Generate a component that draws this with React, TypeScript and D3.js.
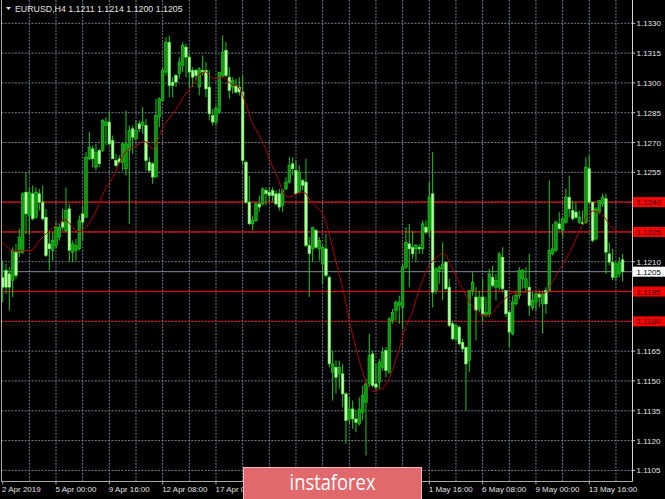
import React from "react";
import * as d3 from "d3";

// EURUSD H4 candles, 2 Apr 2019 08:00 onwards
const symbolName = "EURUSD,H4";
const firstBarTime = "2019-04-02T08:00:00Z";

const open = [
  1.12022, 1.12056, 1.12039, 1.12006, 1.12148, 1.12148, 1.12148, 1.1245, 1.12333, 1.12442,
  1.12324, 1.12442, 1.124, 1.12324, 1.1219, 1.12157, 1.12182, 1.12224, 1.12299, 1.12257,
  1.12366, 1.12148, 1.12157, 1.12165, 1.12341, 1.12324, 1.12618, 1.12668, 1.12576, 1.1266,
  1.1266, 1.12786, 1.12803, 1.1271, 1.1261, 1.12618, 1.12601, 1.12568, 1.1266, 1.12769,
  1.12719, 1.12794, 1.12786, 1.12786, 1.12601, 1.12593, 1.12526, 1.12828, 1.12912, 1.13054,
  1.13205, 1.13004, 1.13037, 1.13046, 1.13088, 1.1318, 1.1313, 1.13063, 1.13063, 1.12979,
  1.13063, 1.13063, 1.12979, 1.12836, 1.12803, 1.12853, 1.13037, 1.13163, 1.13029, 1.12979,
  1.12987, 1.12979, 1.12954, 1.12601, 1.124, 1.12291, 1.12308, 1.12391, 1.12391, 1.12459,
  1.1245, 1.12459, 1.12442, 1.12442, 1.12383, 1.12467, 1.12501, 1.12593, 1.12559, 1.1245,
  1.12509, 1.12501, 1.12182, 1.12165, 1.12257, 1.12165, 1.12089, 1.12165, 1.12022, 1.11544,
  1.11569, 1.11536, 1.11536, 1.11435, 1.11309, 1.11359, 1.11309, 1.11284, 1.11342, 1.11393,
  1.11485, 1.11636, 1.11485, 1.11494, 1.11569, 1.11653, 1.11544, 1.11804, 1.11855, 1.1188,
  1.11871, 1.12073, 1.1219, 1.12173, 1.12165, 1.12173, 1.12165, 1.12274, 1.12257, 1.12442,
  1.11955, 1.12056, 1.12064, 1.12098, 1.11972, 1.11788, 1.11712, 1.11771, 1.11695, 1.1167,
  1.11603, 1.11955, 1.11922, 1.11863, 1.11922, 1.11829, 1.11838, 1.12022, 1.11972, 1.11972,
  1.12123, 1.11955, 1.11846, 1.11737, 1.11888, 1.1193, 1.12014, 1.11972, 1.11972, 1.11871,
  1.11897, 1.11938, 1.11888, 1.11955, 1.11955, 1.1214, 1.12157, 1.12291, 1.12257, 1.12299,
  1.12425, 1.12358, 1.1235, 1.12299, 1.12299, 1.12299, 1.12568, 1.124, 1.12215, 1.1235,
  1.12391, 1.12417, 1.1214, 1.12098, 1.12022, 1.12039, 1.1211,
];

const high = [
  1.12106, 1.12089, 1.12073, 1.12173, 1.1219, 1.12266, 1.1245, 1.12551, 1.12475, 1.12484,
  1.12475, 1.12467, 1.12484, 1.12366, 1.12249, 1.12249, 1.12299, 1.12291, 1.12366, 1.12475,
  1.12391, 1.12207, 1.12215, 1.12333, 1.12383, 1.12652, 1.12752, 1.12685, 1.12693, 1.12668,
  1.12819, 1.12828, 1.12853, 1.12735, 1.12643, 1.12635, 1.12702, 1.12861, 1.12786, 1.12786,
  1.12811, 1.12811, 1.12878, 1.12819, 1.12626, 1.12601, 1.1292, 1.12928, 1.13079, 1.1323,
  1.13239, 1.13029, 1.13046, 1.1313, 1.13205, 1.13197, 1.13147, 1.13079, 1.13071, 1.13079,
  1.13138, 1.13105, 1.13063, 1.1287, 1.12886, 1.13054, 1.13239, 1.13205, 1.13079, 1.13029,
  1.13021, 1.13029, 1.13037, 1.1261, 1.12534, 1.12333, 1.124, 1.12433, 1.12475, 1.12475,
  1.12475, 1.12475, 1.12459, 1.12467, 1.12467, 1.12526, 1.12626, 1.12626, 1.1261, 1.12584,
  1.12517, 1.12618, 1.12224, 1.12274, 1.12266, 1.12224, 1.12182, 1.1224, 1.12031, 1.11653,
  1.11603, 1.11603, 1.11586, 1.11443, 1.11418, 1.11401, 1.11351, 1.11418, 1.11477, 1.11511,
  1.11737, 1.11653, 1.11586, 1.11611, 1.1167, 1.1167, 1.11821, 1.11863, 1.11905, 1.1193,
  1.12089, 1.12274, 1.12291, 1.12257, 1.1219, 1.1219, 1.12308, 1.12308, 1.12501, 1.12652,
  1.12073, 1.12081, 1.12198, 1.12098, 1.12014, 1.11804, 1.11779, 1.11779, 1.11712, 1.1167,
  1.11955, 1.12047, 1.11972, 1.11955, 1.12014, 1.11922, 1.12064, 1.12081, 1.12039, 1.12148,
  1.12173, 1.11955, 1.11855, 1.1193, 1.11955, 1.12073, 1.12064, 1.12073, 1.1214, 1.11955,
  1.11955, 1.11955, 1.11955, 1.11972, 1.12509, 1.12291, 1.12308, 1.1235, 1.12324, 1.12467,
  1.12534, 1.12408, 1.124, 1.12358, 1.12358, 1.12626, 1.12635, 1.124, 1.12375, 1.12408,
  1.12442, 1.12442, 1.12198, 1.12165, 1.12098, 1.12123, 1.1214,
];

const low = [
  1.11897, 1.11938, 1.11855, 1.11922, 1.12014, 1.12123, 1.1214, 1.1224, 1.1224, 1.12308,
  1.12316, 1.12358, 1.12308, 1.12123, 1.12056, 1.12106, 1.12165, 1.12207, 1.12257, 1.12249,
  1.12098, 1.12098, 1.12106, 1.12157, 1.12207, 1.12324, 1.1261, 1.12576, 1.12559, 1.12576,
  1.12652, 1.12685, 1.12685, 1.12618, 1.12576, 1.12593, 1.12559, 1.12534, 1.12291, 1.12643,
  1.1271, 1.12752, 1.12744, 1.12559, 1.12551, 1.12492, 1.12526, 1.12777, 1.12903, 1.13037,
  1.12928, 1.12928, 1.12979, 1.13021, 1.13054, 1.13029, 1.12979, 1.12979, 1.13012, 1.12937,
  1.13037, 1.12928, 1.12811, 1.12786, 1.12786, 1.12844, 1.13029, 1.13029, 1.1292, 1.12945,
  1.12945, 1.12937, 1.12593, 1.12391, 1.12283, 1.12257, 1.12299, 1.1235, 1.12383, 1.12383,
  1.124, 1.124, 1.12383, 1.12358, 1.1235, 1.12459, 1.12492, 1.12534, 1.12442, 1.12442,
  1.12459, 1.12173, 1.11922, 1.12098, 1.12165, 1.12106, 1.11989, 1.12022, 1.11569, 1.11401,
  1.11435, 1.1146, 1.11368, 1.11183, 1.11284, 1.11259, 1.11242, 1.11276, 1.11301, 1.11125,
  1.11469, 1.11469, 1.11452, 1.1146, 1.11553, 1.11519, 1.11536, 1.11788, 1.11804, 1.11788,
  1.11762, 1.12064, 1.11972, 1.12115, 1.12098, 1.1214, 1.1214, 1.1224, 1.12224, 1.11871,
  1.11938, 1.11989, 1.11905, 1.11955, 1.11771, 1.11704, 1.11704, 1.11678, 1.11645, 1.11351,
  1.11544, 1.1193, 1.11704, 1.11846, 1.11796, 1.11821, 1.11821, 1.11972, 1.11905, 1.11955,
  1.11947, 1.11821, 1.1167, 1.11729, 1.1188, 1.11913, 1.11964, 1.11947, 1.11829, 1.11855,
  1.11855, 1.11871, 1.11737, 1.11838, 1.11947, 1.12131, 1.12148, 1.12257, 1.12215, 1.12291,
  1.12324, 1.12308, 1.12316, 1.12291, 1.12282, 1.12291, 1.12391, 1.12198, 1.12207, 1.12341,
  1.12375, 1.12039, 1.12081, 1.12006, 1.12006, 1.12022, 1.12,
];

const close = [
  1.11972, 1.11972, 1.11972, 1.12157, 1.12031, 1.12224, 1.12442, 1.12341, 1.1245, 1.12316,
  1.1245, 1.124, 1.12316, 1.12131, 1.12165, 1.12207, 1.12274, 1.12274, 1.12274, 1.12358,
  1.12157, 1.1219, 1.12182, 1.12308, 1.12299, 1.12626, 1.12677, 1.12618, 1.12652, 1.12593,
  1.12811, 1.12803, 1.12693, 1.12618, 1.12584, 1.12601, 1.12693, 1.12693, 1.12761, 1.12727,
  1.12761, 1.12769, 1.12803, 1.1261, 1.12559, 1.12526, 1.12836, 1.1292, 1.13063, 1.13205,
  1.12987, 1.12987, 1.13004, 1.13105, 1.13189, 1.1313, 1.13054, 1.13029, 1.13037, 1.13071,
  1.13054, 1.1297, 1.12844, 1.12803, 1.1287, 1.13054, 1.13155, 1.13037, 1.12962, 1.13012,
  1.12954, 1.12954, 1.1261, 1.124, 1.12291, 1.12308, 1.12391, 1.12375, 1.12467, 1.12442,
  1.12433, 1.12433, 1.12391, 1.12375, 1.12459, 1.12501, 1.12584, 1.12568, 1.12442, 1.12551,
  1.12484, 1.12182, 1.1214, 1.12274, 1.12173, 1.12207, 1.12173, 1.12031, 1.11586, 1.11586,
  1.11519, 1.11569, 1.11435, 1.11301, 1.11359, 1.11309, 1.11292, 1.11359, 1.11427, 1.11485,
  1.11628, 1.11477, 1.11469, 1.11595, 1.11645, 1.11553, 1.11813, 1.11846, 1.11897, 1.11897,
  1.12073, 1.12198, 1.12165, 1.1214, 1.12182, 1.12165, 1.12291, 1.12249, 1.12425, 1.11947,
  1.12064, 1.12073, 1.12089, 1.11964, 1.11779, 1.11712, 1.11779, 1.11687, 1.11662, 1.11586,
  1.11955, 1.11997, 1.11855, 1.11922, 1.11838, 1.11846, 1.12039, 1.1198, 1.12006, 1.1214,
  1.11964, 1.11838, 1.11746, 1.11897, 1.1193, 1.12056, 1.12056, 1.12014, 1.1188, 1.11905,
  1.11938, 1.11922, 1.11938, 1.11888, 1.12157, 1.12165, 1.12299, 1.12266, 1.12316, 1.12425,
  1.12366, 1.12316, 1.12324, 1.12324, 1.12291, 1.12576, 1.124, 1.12207, 1.12366, 1.12408,
  1.12425, 1.12148, 1.12098, 1.12022, 1.12089, 1.12098, 1.1205,
];

// moving average (red line), one value per bar
const movingAverage = [
  1.12198, 1.12182, 1.12165, 1.12157, 1.12157, 1.12157, 1.12157, 1.12157, 1.12157, 1.12157,
  1.12182, 1.12204, 1.12224, 1.1224, 1.12257, 1.12271, 1.12282, 1.12296, 1.12308, 1.12311,
  1.12294, 1.12271, 1.12257, 1.12251, 1.12257, 1.12271, 1.12294, 1.12321, 1.12355, 1.12395,
  1.12439, 1.12472, 1.12499, 1.12522, 1.12556, 1.12596, 1.1263, 1.12657, 1.12667, 1.12675,
  1.12683, 1.12692, 1.12707, 1.12704, 1.1268, 1.12667, 1.12689, 1.1273, 1.12774, 1.12801,
  1.12824, 1.12843, 1.12866, 1.12892, 1.12923, 1.12944, 1.12967, 1.12992, 1.13017, 1.13043,
  1.13053, 1.13056, 1.13037, 1.13022, 1.13021, 1.13024, 1.13029, 1.13022, 1.13001, 1.12989,
  1.12987, 1.12975, 1.12937, 1.12895, 1.12839, 1.12794, 1.12766, 1.12734, 1.127, 1.12667,
  1.1262, 1.12576, 1.12541, 1.12501, 1.12452, 1.12428, 1.12425, 1.12432, 1.1244, 1.12449,
  1.1245, 1.12444, 1.12415, 1.12395, 1.12378, 1.12361, 1.12345, 1.12301, 1.12237, 1.1217,
  1.12103, 1.12036, 1.11969, 1.11888, 1.11804, 1.11734, 1.11667, 1.11599, 1.11546, 1.11495,
  1.11465, 1.11447, 1.1145, 1.11459, 1.1146, 1.1148, 1.11512, 1.11559, 1.1161, 1.1166,
  1.11724, 1.11777, 1.11814, 1.11848, 1.11908, 1.11964, 1.12006, 1.12053, 1.12084, 1.12103,
  1.1212, 1.12133, 1.12145, 1.12136, 1.12098, 1.12063, 1.12029, 1.11996, 1.11962, 1.11928,
  1.11902, 1.11876, 1.11851, 1.11833, 1.11829, 1.11829, 1.11829, 1.11843, 1.11866, 1.11885,
  1.11902, 1.11918, 1.11935, 1.11945, 1.1194, 1.11938, 1.11945, 1.11947, 1.11954, 1.11952,
  1.11947, 1.1194, 1.11938, 1.11945, 1.11967, 1.11999, 1.12032, 1.12059, 1.12084, 1.12116,
  1.12143, 1.12175, 1.12215, 1.12251, 1.12284, 1.12321, 1.12345, 1.12356, 1.12351, 1.1235,
  1.12336, 1.12313, 1.12287, 1.12269, 1.12259, 1.12251, 1.12247,
];

// time-axis labels that are visible (the ones under the logo panel are hidden)
const timeLabels = [
  "2 Apr 2019", "5 Apr 00:00", "9 Apr 16:00", "12 Apr 08:00", "17 Apr 00:00",
  "1 May 16:00", "6 May 08:00", "9 May 00:00", "13 May 16:00",
];

const priceGrid = [
  1.133, 1.1315, 1.13, 1.1285, 1.127, 1.1255, 1.124, 1.1225, 1.121, 1.1195, 1.118, 1.1165,
  1.115, 1.1135, 1.112, 1.1105,
];

// horizontal levels drawn in red
const levelPrices = [1.124, 1.1225, 1.1195, 1.118];
const levelDotted = [false, false, false, true];

const FONT = "'Liberation Sans', Arial, sans-serif";

export default function App() {
  const n = close.length;
  const plotLeft = 1.5;
  const plotRight = 632.5;
  const plotBottom = 481.5;

  const x = d3.scaleLinear().domain([0, n - 1]).range([2.67, 2.67 + 3.333 * (n - 1)]);
  const y = d3.scaleLinear().domain([1.1105, 1.133]).range([470.4, 23.3]);

  // bar times: 4-hour bars, weekends skipped
  const barTimes: Date[] = [];
  let t = new Date(firstBarTime);
  while (barTimes.length < n) {
    const dow = t.getUTCDay();
    if (dow !== 0 && dow !== 6) barTimes.push(new Date(t));
    t = d3.utcHour.offset(t, 4);
  }
  const fmtTime = d3.utcFormat("%-d %b %H:%M");
  const fmtDay = d3.utcFormat("%-d %b %Y");
  const labelIdx = timeLabels.map((lab) =>
    barTimes.findIndex((d) => fmtTime(d) === lab || fmtDay(d) === lab)
  );

  const gridIdx = d3.range(8, n, 8);
  const fmtPrice = d3.format(".4f");
  const last = n - 1;
  const current = close[last];

  const maLine = d3
    .line<number>()
    .x((_, i) => x(i))
    .y((v) => y(v));

  const usedLabels = new Set(levelPrices.map((p) => fmtPrice(p)));

  return (
    <svg
      width={665}
      height={499}
      style={{ position: "fixed", left: 0, top: 0, background: "#000" }}
      fontFamily={FONT}
    >
      <rect x={0} y={0} width={665} height={499} fill="#000" />

      {/* grid */}
      <g stroke="#6f7f90" strokeWidth={1} strokeDasharray="2,1.33">
        {priceGrid.map((p) => (
          <line key={"h" + p} x1={plotLeft} x2={plotRight} y1={y(p)} y2={y(p)} />
        ))}
        {gridIdx.map((i) => (
          <line key={"v" + i} x1={x(i)} x2={x(i)} y1={0} y2={plotBottom} />
        ))}
      </g>

      {/* current price line */}
      <line x1={plotLeft} x2={plotRight} y1={y(current)} y2={y(current)} stroke="#7d8c9b" strokeWidth={1} />

      {/* red levels */}
      {levelPrices.map((p, k) => (
        <line
          key={"lv" + p}
          x1={plotLeft}
          x2={plotRight}
          y1={y(p)}
          y2={y(p)}
          stroke="#ff0000"
          strokeWidth={1}
          strokeDasharray={levelDotted[k] ? "2,1.33" : undefined}
        />
      ))}

      {/* candles */}
      <g>
        {close.map((c, i) => {
          const o = open[i];
          const bull = c >= o;
          const top = y(Math.max(o, c));
          const h = Math.max(Math.abs(y(o) - y(c)), 1);
          return (
            <g key={"c" + i}>
              <line x1={x(i)} x2={x(i)} y1={y(high[i])} y2={y(low[i])} stroke="#16c816" strokeWidth={1} />
              <rect
                x={x(i) - 1.3}
                y={top}
                width={2.6}
                height={h}
                fill={bull ? "#0f920f" : "#bcffa8"}
                stroke={bull ? "#24d024" : "#4ae840"}
                strokeWidth={0.6}
              />
            </g>
          );
        })}
      </g>

      {/* moving average */}
      <path d={maLine(movingAverage) || ""} fill="none" stroke="#b40000" strokeWidth={1} />

      {/* frame */}
      <g stroke="#a8a8a8" strokeWidth={1}>
        <line x1={plotLeft} x2={plotLeft} y1={0} y2={plotBottom} />
        <line x1={plotRight} x2={plotRight} y1={0} y2={plotBottom} stroke="#d0d0d0" />
        <line x1={plotLeft} x2={plotRight} y1={plotBottom} y2={plotBottom} />
      </g>

      {/* price axis */}
      <g fontSize={8} fill="#e4e4e4">
        {priceGrid
          .filter((p) => !usedLabels.has(fmtPrice(p)))
          .map((p) => (
            <g key={"pl" + p}>
              <line x1={632} x2={635} y1={y(p)} y2={y(p)} stroke="#d0d0d0" />
              <text x={636.5} y={y(p) + 3}>
                {fmtPrice(p)}
              </text>
            </g>
          ))}
        {levelPrices.map((p) => (
          <g key={"rl" + p}>
            <rect x={633} y={y(p) - 5} width={32} height={10} fill="#ff0000" />
            <text x={636.5} y={y(p) + 3} fill="#1a0000">
              {fmtPrice(p)}
            </text>
          </g>
        ))}
        <rect x={633} y={y(current) - 5} width={32} height={10} fill="#ffffff" />
        <text x={636.5} y={y(current) + 3} fill="#000">
          {fmtPrice(current)}
        </text>
      </g>

      {/* time axis */}
      <g fontSize={8} fill="#e0e0e0">
        {labelIdx.map((i, k) =>
          i < 0 ? null : (
            <g key={"tl" + k}>
              <line x1={x(i)} x2={x(i)} y1={plotBottom} y2={plotBottom + 3} stroke="#a8a8a8" />
              <text x={k === 0 ? 2 : x(i) - 0.5} y={492}>
                {timeLabels[k]}
              </text>
            </g>
          )
        )}
      </g>

      {/* header */}
      <path d="M6,7 L11,7 L8.5,10 Z" fill="#e0e0e0" />
      <text x={15} y={12} fontSize={8.8} fill="#e4e4e4">
        {`${symbolName}  ${fmtPrice(open[last])} ${fmtPrice(high[last])} ${fmtPrice(low[last])} ${fmtPrice(close[last])}`}
      </text>

      {/* logo */}
      <rect x={243.5} y={467.5} width={178} height={40} fill="#e1686b" stroke="#f3b9b9" strokeWidth={1} />
      <text
        x={332.5}
        y={489.5}
        textAnchor="middle"
        fontSize={21}
        fill="#ffffff"
        fontFamily="'Open Sans', 'DejaVu Sans', sans-serif"
        textLength={86}
        lengthAdjust="spacingAndGlyphs"
      >
        instaforex
      </text>
    </svg>
  );
}
